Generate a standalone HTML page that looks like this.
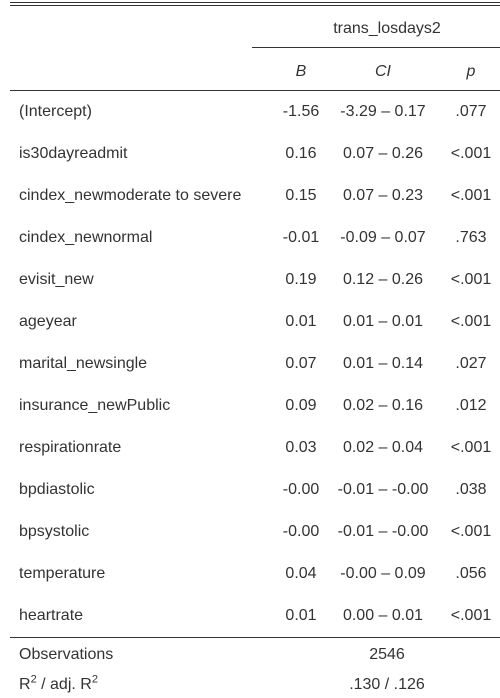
<!DOCTYPE html>
<html><head><meta charset="utf-8"><style>
body{margin:0;width:500px;height:698px;background:#fff;position:relative;font-family:"Liberation Sans",Arial,sans-serif;font-size:16px;color:#333;overflow:hidden}
.t{position:absolute;white-space:nowrap;line-height:18px;transform:translateY(-50%)}
.c{transform:translate(-50%,-50%)}
.ln{position:absolute;height:1px;background:#333}
i{font-style:italic}
</style></head><body>
<div class="ln" style="left:10px;top:2px;width:490px"></div>
<div class="ln" style="left:10px;top:5px;width:490px"></div>
<div class="t c" style="left:387px;top:29px">trans_losdays2</div>
<div class="ln" style="left:252px;top:47px;width:248px"></div>
<div class="t c" style="left:301px;top:72px"><i>B</i></div>
<div class="t c" style="left:383px;top:72px"><i>CI</i></div>
<div class="t c" style="left:471px;top:72px"><i>p</i></div>
<div class="ln" style="left:10px;top:90px;width:490px"></div>
<div id="rows"></div>
<div class="ln" style="left:10px;top:637px;width:490px"></div>
<div class="t" style="left:19px;top:655px">Observations</div>
<div class="t c" style="left:387px;top:655px">2546</div>
<div class="t" style="left:19px;top:685px">R<sup style="font-size:11px;line-height:0">2</sup> / adj. R<sup style="font-size:11px;line-height:0">2</sup></div>
<div class="t c" style="left:387px;top:685px">.130 / .126</div>
<script>
const terms=["(Intercept)","is30dayreadmit","cindex_newmoderate to severe","cindex_newnormal","evisit_new","ageyear","marital_newsingle","insurance_newPublic","respirationrate","bpdiastolic","bpsystolic","temperature","heartrate"];
const estimates=["-1.56","0.16","0.15","-0.01","0.19","0.01","0.07","0.09","0.03","-0.00","-0.00","0.04","0.01"];
const cis=["-3.29 – 0.17","0.07 – 0.26","0.07 – 0.23","-0.09 – 0.07","0.12 – 0.26","0.01 – 0.01","0.01 – 0.14","0.02 – 0.16","0.02 – 0.04","-0.01 – -0.00","-0.01 – -0.00","-0.00 – 0.09","0.00 – 0.01"];
const pvals=[".077","<.001","<.001",".763","<.001","<.001",".027",".012","<.001",".038","<.001",".056","<.001"];
const host=document.getElementById('rows');
function cell(txt,x,y,cls,name){
  const d=document.createElement('div');
  d.className='t'+(cls?' c':'');
  d.style.left=x+'px';d.style.top=y+'px';
  d.textContent=txt;
  
  
  host.appendChild(d);
}
terms.forEach((t,i)=>{
  const y=112+i*42;
  cell(t,19,y,false,'term-label');
  cell(estimates[i],301,y,true,'estimate-value');
  cell(cis[i],383,y,true,'ci-value');
  cell(pvals[i],471,y,true,'p-value');
});
</script>
</body></html>
